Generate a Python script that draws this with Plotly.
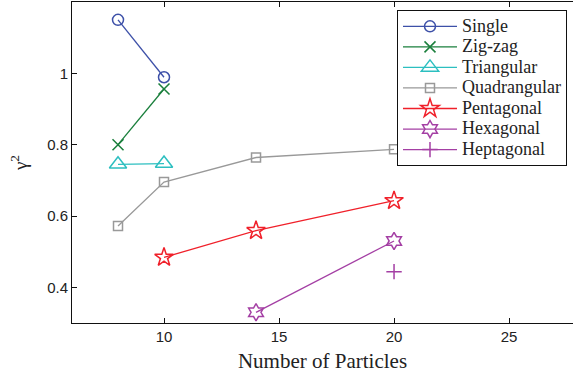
import plotly.graph_objects as go

names = ["Single", "Zig-zag", "Triangular", "Quadrangular", "Pentagonal", "Hexagonal", "Heptagonal"]
single_x = [8, 10]
single_y = [1.150, 0.989]
zigzag_x = [8, 10]
zigzag_y = [0.800, 0.956]
triangular_x = [8, 10]
triangular_y = [0.745, 0.747]
quad_x = [8, 10, 14, 20]
quad_y = [0.572, 0.695, 0.764, 0.787]
penta_x = [10, 14, 20]
penta_y = [0.484, 0.559, 0.643]
hexa_x = [14, 20]
hexa_y = [0.330, 0.530]
hepta_x = [20]
hepta_y = [0.444]

xs = [single_x, zigzag_x, triangular_x, quad_x, penta_x, hexa_x, hepta_x]
ys = [single_y, zigzag_y, triangular_y, quad_y, penta_y, hexa_y, hepta_y]
colors = ["#3d50a8", "#1a7f3c", "#2cbfc0", "#999999", "#f0202a", "#a43fa4", "#a43fa4"]
symbols = ["circle-open", "x-thin-open", "triangle-up-open", "square-open",
           "star-open", "hexagram-open", "cross-thin-open"]
sizes = [11, 11, 15, 9, 14, 13, 11]

fig = go.Figure()
for n, x, y, c, s, sz in zip(names, xs, ys, colors, symbols, sizes):
    fig.add_trace(go.Scatter(
        x=x, y=y, name='<span style="font-size:18px">' + n + '</span>', mode="lines+markers",
        line=dict(color=c, width=1.3),
        marker=dict(symbol=s, size=sz, color=c, line=dict(color=c, width=1.5)),
    ))

fig.update_layout(
    width=573, height=377,
    margin=dict(l=72, r=0, t=2, b=54),
    plot_bgcolor="white", paper_bgcolor="white",
    font=dict(family="Liberation Sans", size=15, color="#222"),
    legend=dict(
        x=0.6487, y=0.975, xanchor="left", yanchor="top",
        bordercolor="#111", borderwidth=1, bgcolor="white",
        font=dict(family="Liberation Serif", size=13.5, color="#222"),
        tracegroupgap=0, itemwidth=54,
    ),
    xaxis=dict(
        range=[6, 27.78], tickvals=[10, 15, 20, 25],
        showline=True, linecolor="#111", linewidth=1, mirror="ticks",
        ticks="inside", ticklen=5, tickcolor="#111",
        showgrid=False, zeroline=False,
        title=dict(text="Number of Particles", font=dict(family="Liberation Serif", size=21, color="#222"), standoff=9),
    ),
    yaxis=dict(
        range=[0.3, 1.2], tickvals=[0.4, 0.6, 0.8, 1.0], ticktext=["0.4", "0.6", "0.8", "1"],
        showline=True, linecolor="#111", linewidth=1,
        ticks="inside", ticklen=5, tickcolor="#111",
        showgrid=False, zeroline=False,
        title=dict(text="γ<sup>2</sup>", font=dict(family="Liberation Serif", size=19, color="#222"), standoff=14),
    ),
)

fig.write_html("out.html", post_script="document.body.style.margin='0';",
               config={"displayModeBar": False})
